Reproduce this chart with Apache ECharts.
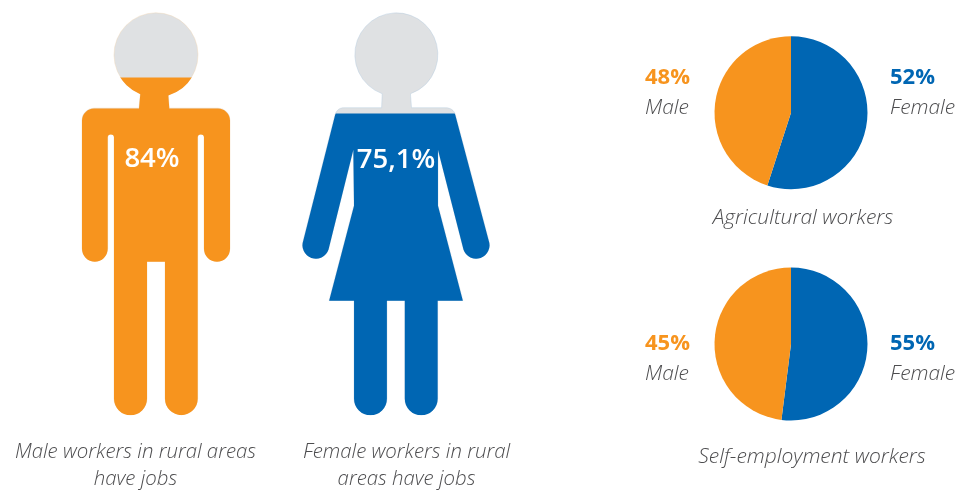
<!DOCTYPE html>
<html>
<head>
<meta charset="utf-8">
<style>
  html, body { margin: 0; padding: 0; background: #fff; }
  #main { width: 957px; height: 491px; }
</style>
<script src="https://cdn.jsdelivr.net/npm/echarts@6/dist/echarts.min.js"></script>
</head>
<body>
<div id="main"></div>
<script>
var figureNames = ["Male", "Female"];
var figureValues = [84, 75.1];
var figureLabels = ["84%", "75,1%"];

// slices are as drawn in the picture, the printed labels do not agree with them
var pieNames = ["Female", "Male"];
var agriSlices = [55, 45];
var selfSlices = [52, 48];
var agriLabels = ["52%", "48%"];
var selfLabels = ["55%", "45%"];

var orange = "#f7941e";
var blue = "#0066b3";
var grey = "#dfe1e3";
var textColor = "#4d4d4f";
var fontName = "'Open Sans'";

var malePath = "path://M140.3 94.3A42 42 0 1 1 168.3 95.5L169.3 108.7L218 108.7A12 12 0 0 1 230 120.7L230 249A13 13 0 0 1 204 249L204 137.7A3.15 3.15 0 0 0 197.7 137.7L197.7 399A16.35 16.35 0 0 1 165 399L165 262L147 262L147 399A16.5 16.5 0 0 1 114 399L114 137.7A3.15 3.15 0 0 0 107.7 137.7L107.7 249A12.85 12.85 0 0 1 82 249L82 120.7A12 12 0 0 1 94 108.7L139 108.7Z";
var femalePath = "path://M382.3 94.3A41.7 41.7 0 1 1 410.7 94.3L411.7 108.3L446 108.3C451 108.3 454.5 111 455.7 115L489.3 241A13 13 0 0 1 464 250L438.3 150L438.3 206L463.3 301L438 301L438 399A16.5 16.5 0 0 1 405 399L405 301L387 301L387 399A16.5 16.5 0 0 1 354 399L354 301L329 301L354 206L353.3 150L328.3 250A13 13 0 0 1 303 241L335 115C336.5 111 339 108.3 344 108.3L381.7 108.3Z";

function figureSeries(i, path, color, edge) {
  return [
    {
      type: "pictorialBar",
      name: figureNames[i] + " full",
      xAxisIndex: i,
      yAxisIndex: i,
      silent: true,
      barWidth: "100%",
      symbol: path,
      symbolSize: ["100%", "100%"],
      symbolBoundingData: 100,
      itemStyle: { color: grey, borderColor: edge, borderWidth: 0.6 },
      data: [100],
      z: 2
    },
    {
      type: "pictorialBar",
      name: figureNames[i],
      xAxisIndex: i,
      yAxisIndex: i,
      silent: true,
      barWidth: "100%",
      symbol: path,
      symbolSize: ["100%", "100%"],
      symbolBoundingData: 100,
      symbolClip: true,
      itemStyle: { color: color },
      data: [figureValues[i]],
      z: 3
    }
  ];
}

function pieSeries(values, center, radius) {
  return {
    type: "pie",
    silent: true,
    center: center,
    radius: radius,
    startAngle: 90,
    label: { show: false },
    labelLine: { show: false },
    data: values.map(function (v, i) {
      return { name: pieNames[i], value: v, itemStyle: { color: i === 0 ? blue : orange } };
    })
  };
}

function txt(x, y, text, size, color, weight, style, align) {
  return {
    type: "text",
    x: x,
    y: y,
    z: 100,
    silent: true,
    style: {
      text: text,
      fill: color,
      font: (style || "normal") + " " + weight + " " + size + "px " + fontName,
      textAlign: align || "left",
      textVerticalAlign: "middle"
    }
  };
}

var capLeft = 20.4;
var capRight = 21;
var pct = 22;
var texts = [
  txt(152, 159, figureLabels[0], 27.5, "#fff", 600, "normal", "center"),
  txt(396, 160, figureLabels[1], 27.5, "#fff", 600, "normal", "center"),
  txt(135.5, 452, "Male workers in rural areas", capLeft, textColor, 300, "italic", "center"),
  txt(135.5, 479, "have jobs", capLeft, textColor, 300, "italic", "center"),
  txt(406.5, 452, "Female workers in rural", capLeft, textColor, 300, "italic", "center"),
  txt(406.5, 479, "areas have jobs", capLeft, textColor, 300, "italic", "center"),
  txt(645, 78, agriLabels[1], pct, orange, 700),
  txt(645, 108, pieNames[1], capRight, textColor, 300, "italic"),
  txt(890, 78, agriLabels[0], pct, blue, 700),
  txt(890, 108, pieNames[0], capRight, textColor, 300, "italic"),
  txt(803, 218, "Agricultural workers", capRight, textColor, 300, "italic", "center"),
  txt(645, 344, selfLabels[1], pct, orange, 700),
  txt(645, 374, pieNames[1], capRight, textColor, 300, "italic"),
  txt(890, 344, selfLabels[0], pct, blue, 700),
  txt(890, 374, pieNames[0], capRight, textColor, 300, "italic"),
  txt(812, 457, "Self-employment workers", capRight, textColor, 300, "italic", "center")
];

var myChart = echarts.init(document.getElementById("main"));
var option = {
  animation: false,
  backgroundColor: "#fff",
  grid: [
    { left: 82, top: 13.3, width: 148, height: 402 },
    { left: 302.5, top: 13.3, width: 187, height: 402 }
  ],
  xAxis: [
    { type: "category", gridIndex: 0, data: [figureNames[0]], show: false },
    { type: "category", gridIndex: 1, data: [figureNames[1]], show: false }
  ],
  yAxis: [
    { type: "value", gridIndex: 0, min: 0, max: 100, show: false },
    { type: "value", gridIndex: 1, min: 0, max: 100, show: false }
  ],
  series: figureSeries(0, malePath, orange, "#f0d6b4")
    .concat(figureSeries(1, femalePath, blue, "#b4cbe0"))
    .concat([
      pieSeries(agriSlices, [791, 112.7], 76.5),
      pieSeries(selfSlices, [791, 344], 76.5)
    ]),
  graphic: texts
};
myChart.setOption(option, true);
</script>
</body>
</html>
